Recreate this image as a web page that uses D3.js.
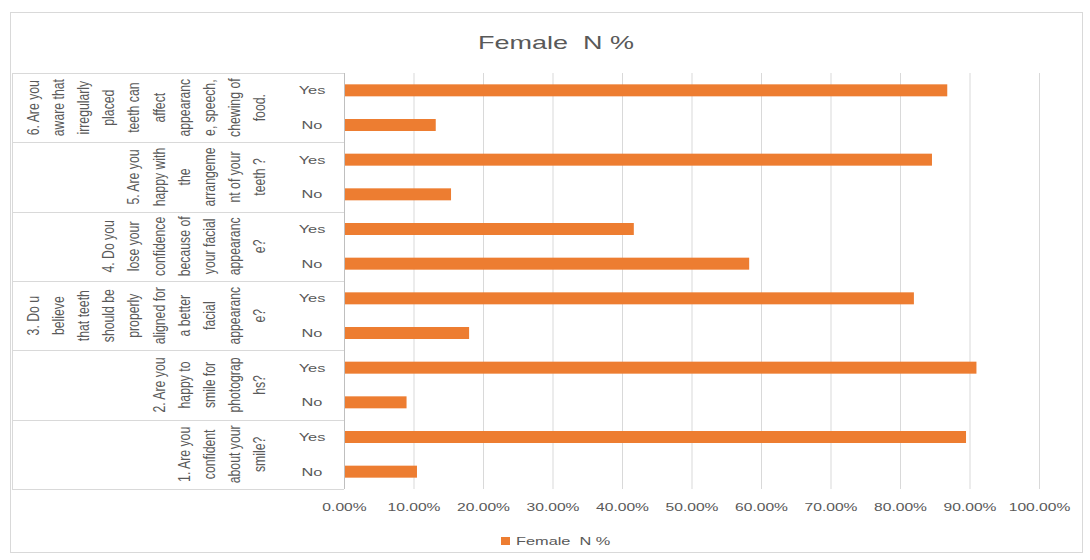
<!DOCTYPE html>
<html>
<head>
<meta charset="utf-8">
<script src="https://cdn.jsdelivr.net/npm/d3@7"></script>
<style>
  html, body { margin: 0; padding: 0; background: #fff; }
  svg text { font-family: "Liberation Sans", Arial, sans-serif; fill: #595959; white-space: pre; }
</style>
</head>
<body>
<svg id="chart" width="1090" height="560"></svg>
<script>
// ---- data ----
const chartTitle = "Female  N %";
const seriesName = "Female  N %";
const groupNumbers = [1, 2, 3, 4, 5, 6];
const groupLines = [
  ["1. Are you", "confident", "about your", "smile?"],
  ["2. Are you", "happy to", "smile for", "photograp", "hs?"],
  ["3. Do u", "believe", "that teeth", "should be", "properly", "aligned for", "a better", "facial", "appearanc", "e?"],
  ["4. Do you", "lose your", "confidence", "because of", "your facial", "appearanc", "e?"],
  ["5. Are you", "happy with", "the", "arrangeme", "nt of your", "teeth ?"],
  ["6. Are you", "aware that", "irregularly", "placed", "teeth can", "affect", "appearanc", "e, speech,", "chewing of", "food."]
];
const answers = ["Yes", "No"];
const yesValues = [0.895, 0.910, 0.820, 0.417, 0.846, 0.868];
const noValues  = [0.105, 0.090, 0.180, 0.583, 0.154, 0.132];
const xTicks = [0, 0.1, 0.2, 0.3, 0.4, 0.5, 0.6, 0.7, 0.8, 0.9, 1.0];

(function () {
// ---- build rows (top = group 6 Yes) ----
const rows = [];
for (let gi = groupNumbers.length - 1; gi >= 0; gi--) {
  rows.push({ key: groupNumbers[gi] + "-Yes", group: gi, answer: answers[0], value: yesValues[gi] });
  rows.push({ key: groupNumbers[gi] + "-No", group: gi, answer: answers[1], value: noValues[gi] });
}

const svg = d3.select("#chart");
const pTop = 73, pBottom = 489, pLeft = 344, pRight = 1039;
const textScale = 1.42;

// chart border
svg.append("rect").attr("x", 10.5).attr("y", 12.5).attr("width", 1072).attr("height", 540)
  .attr("fill", "#fff").attr("stroke", "#d9d9d9");

const x = d3.scaleLinear().domain([0, 1]).range([pLeft, pRight]);
const y = d3.scaleBand().domain(rows.map(r => r.key)).range([pTop, pBottom])
  .paddingInner(0.654).paddingOuter(0.327);

// x axis + gridlines
const xAxis = svg.append("g").attr("transform", `translate(0,${pBottom})`)
  .call(d3.axisBottom(x).tickValues(xTicks).tickSize(-(pBottom - pTop)).tickFormat(d3.format(".2%")));
xAxis.select(".domain").remove();
xAxis.selectAll(".tick line").attr("stroke", "#d9d9d9");
xAxis.selectAll(".tick text").attr("y", 14).attr("font-size", 11).attr("x", 0)
  .attr("transform", `scale(${textScale},1)`).style("fill", "#595959");

// vertical category axis line
svg.append("line").attr("x1", pLeft + 0.5).attr("x2", pLeft + 0.5).attr("y1", pTop).attr("y2", pBottom)
  .attr("stroke", "#bfbfbf");

// bars
svg.append("g").selectAll("rect").data(rows).join("rect")
  .attr("x", x(0) + 1)
  .attr("y", d => y(d.key))
  .attr("width", d => x(d.value) - x(0) - 1)
  .attr("height", y.bandwidth())
  .attr("fill", "#ED7D31");

// Yes / No labels
const yAxis = svg.append("g").attr("transform", "translate(312,0)")
  .call(d3.axisLeft(y).tickSize(0).tickFormat(k => rows.find(r => r.key === k).answer));
yAxis.select(".domain").remove();
yAxis.selectAll(".tick text").attr("x", 0).attr("text-anchor", "middle").attr("font-size", 11.5)
  .attr("dy", "0.36em").attr("transform", `scale(${textScale},1)`).style("fill", "#595959");

// group separators and labels
const step = y.step();
const pad = step * y.paddingInner() / 2;
const sep = svg.append("g");
sep.append("line").attr("x1", 12).attr("x2", pLeft).attr("y1", pTop + 0.5).attr("y2", pTop + 0.5).attr("stroke", "#d9d9d9");
sep.append("line").attr("x1", 12.5).attr("x2", 12.5).attr("y1", pTop).attr("y2", pBottom).attr("stroke", "#d9d9d9");
groupNumbers.forEach((g, gi) => {
  const gTop = y(g + "-Yes") - pad;
  const gBottom = gTop + 2 * step;
  sep.append("line").attr("x1", 12).attr("x2", pLeft)
    .attr("y1", Math.round(gBottom) + 0.5).attr("y2", Math.round(gBottom) + 0.5)
    .attr("stroke", "#d9d9d9");
  const cy = (gTop + gBottom) / 2;
  const lines = groupLines[gi];
  const n = lines.length;
  lines.forEach((ln, i) => {
    const cx = 260 - (n - 1 - i) * 25.2;
    svg.append("text")
      .attr("transform", `translate(${cx},${cy}) rotate(-90) scale(1.02,1.3)`)
      .attr("text-anchor", "middle").attr("dy", "0.35em")
      .attr("font-size", 12)
      .text(ln);
  });
});

// title
svg.append("text").attr("transform", `translate(556,49) scale(${textScale},1)`)
  .attr("text-anchor", "middle").attr("font-size", 19).text(chartTitle);

// legend
svg.append("rect").attr("x", 501).attr("y", 537).attr("width", 9).attr("height", 8).attr("fill", "#ED7D31");
svg.append("text").attr("transform", `translate(516,545) scale(${textScale},1)`)
  .attr("font-size", 11.5).text(seriesName);
})();
</script>
</body>
</html>
